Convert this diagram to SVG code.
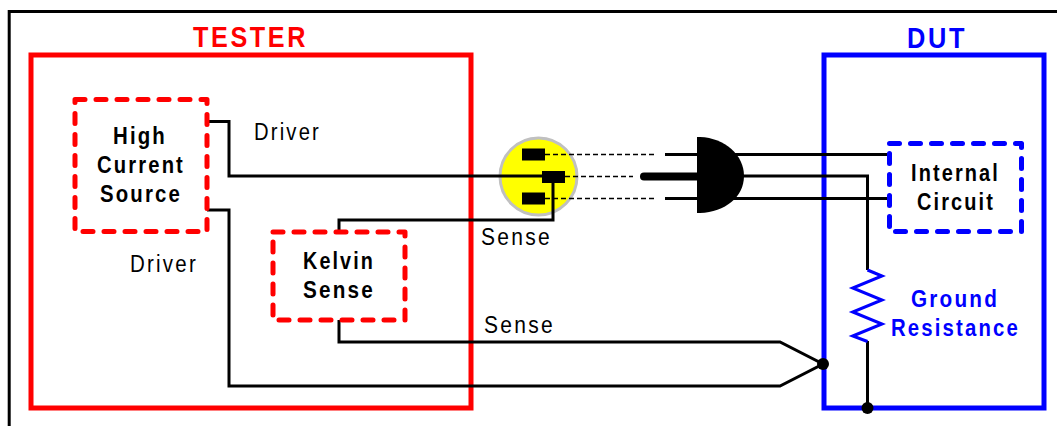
<svg xmlns="http://www.w3.org/2000/svg" width="1057" height="426" viewBox="0 0 1057 426">
<style>
text{font-family:"Liberation Sans",Arial,sans-serif}
.lbl{font-size:23px;fill:#000;letter-spacing:2.5px}
.b{font-size:23.500px;font-weight:bold;fill:#000;letter-spacing:2.5px;text-anchor:middle}
.bl{font-size:23.500px;font-weight:bold;fill:#00f;letter-spacing:2.5px;text-anchor:middle}
.h{font-size:29px;font-weight:bold;letter-spacing:3px;text-anchor:middle}
.w{fill:none;stroke:#000;stroke-width:3}
.dr{fill:none;stroke:#f00;stroke-width:5;stroke-dasharray:10 11;stroke-linecap:round;stroke-linejoin:round}
.db{fill:none;stroke:#00f;stroke-width:5;stroke-dasharray:10 11;stroke-linecap:round;stroke-linejoin:round}
.ds{fill:none;stroke:#000;stroke-width:1.600;stroke-dasharray:5 3}
</style>
<path d="M9.200 426V11.500H1057" fill="none" stroke="#000" stroke-width="3"/>
<g id="tester">
<rect x="31" y="55" width="440" height="353" fill="none" stroke="#f00" stroke-width="5"/>
<text class="h" x="250.500" y="47" fill="#f00" textLength="115" lengthAdjust="spacingAndGlyphs">TESTER</text>
</g>
<g id="dut">
<rect x="824" y="55" width="220" height="353" fill="none" stroke="#00f" stroke-width="5"/>
<text class="h" x="937" y="48" fill="#00f" textLength="60" lengthAdjust="spacingAndGlyphs">DUT</text>
</g>
<g id="socket">
<circle cx="538.500" cy="176.500" r="38.500" fill="#ff0" stroke="#c0c0c0" stroke-width="3"/>
</g>
<g id="connectors">
<path class="w" d="M207 121.500H229V176H553V220H339V232"/>
<path class="w" d="M339 320V342H780L823 364L780 386H229V210H207"/>
<path class="w" d="M697 154.500H889M697 198.500H889M697 176H867.500V270M867.500 341V408"/>
<path class="ds" d="M545 154.500H655M565 176.500H633M545 198.500H655"/>
<path class="w" d="M665 154.500H697M665 198.500H697"/>
<path d="M644 176.500H697" fill="none" stroke="#000" stroke-width="8" stroke-linecap="round"/>
<path d="M867.500 270L882 276L852.700 288L882 300L852.700 312L882 324L852.700 336L867.500 341.500" fill="none" stroke="#00f" stroke-width="3"/>
<circle cx="823" cy="364" r="6"/>
<circle cx="867.500" cy="408" r="6"/>
</g>
<g id="socket-slots">
<rect x="522" y="148.500" width="23" height="12"/>
<rect x="542" y="171" width="23" height="12"/>
<rect x="522" y="192.500" width="23" height="12"/>
</g>
<g id="plug">
<path d="M697 137H700C725 138 744 155 744 176C744 197 725 212 700 213H697Z"/>
</g>
<g id="high-current-source">
<rect x="75" y="99.500" width="132" height="132" class="dr"/>
<text class="b" x="140" y="143.500" textLength="54" lengthAdjust="spacingAndGlyphs">High</text>
<text class="b" x="141" y="173" textLength="88" lengthAdjust="spacingAndGlyphs">Current</text>
<text class="b" x="141" y="202" textLength="82" lengthAdjust="spacingAndGlyphs">Source</text>
</g>
<g id="kelvin-sense">
<rect x="273" y="232" width="132" height="88" class="dr"/>
<text class="b" x="339" y="269" textLength="72" lengthAdjust="spacingAndGlyphs">Kelvin</text>
<text class="b" x="339" y="298" textLength="72" lengthAdjust="spacingAndGlyphs">Sense</text>
</g>
<g id="internal-circuit">
<rect x="889.500" y="143.500" width="132" height="88" class="db"/>
<text class="b" x="955.500" y="181" textLength="89" lengthAdjust="spacingAndGlyphs">Internal</text>
<text class="b" x="956" y="210" textLength="78" lengthAdjust="spacingAndGlyphs">Circuit</text>
</g>
<g id="ground-resistance">
<text class="bl" x="955" y="307" textLength="88" lengthAdjust="spacingAndGlyphs">Ground</text>
<text class="bl" x="955.500" y="336" textLength="129" lengthAdjust="spacingAndGlyphs">Resistance</text>
</g>
<g id="labels">
<text class="lbl" x="254" y="139.500" textLength="67" lengthAdjust="spacingAndGlyphs">Driver</text>
<text class="lbl" x="130" y="271.500" textLength="68" lengthAdjust="spacingAndGlyphs">Driver</text>
<text class="lbl" x="481" y="244.500" textLength="71" lengthAdjust="spacingAndGlyphs">Sense</text>
<text class="lbl" x="484" y="332.500" textLength="71" lengthAdjust="spacingAndGlyphs">Sense</text>
</g>
</svg>
